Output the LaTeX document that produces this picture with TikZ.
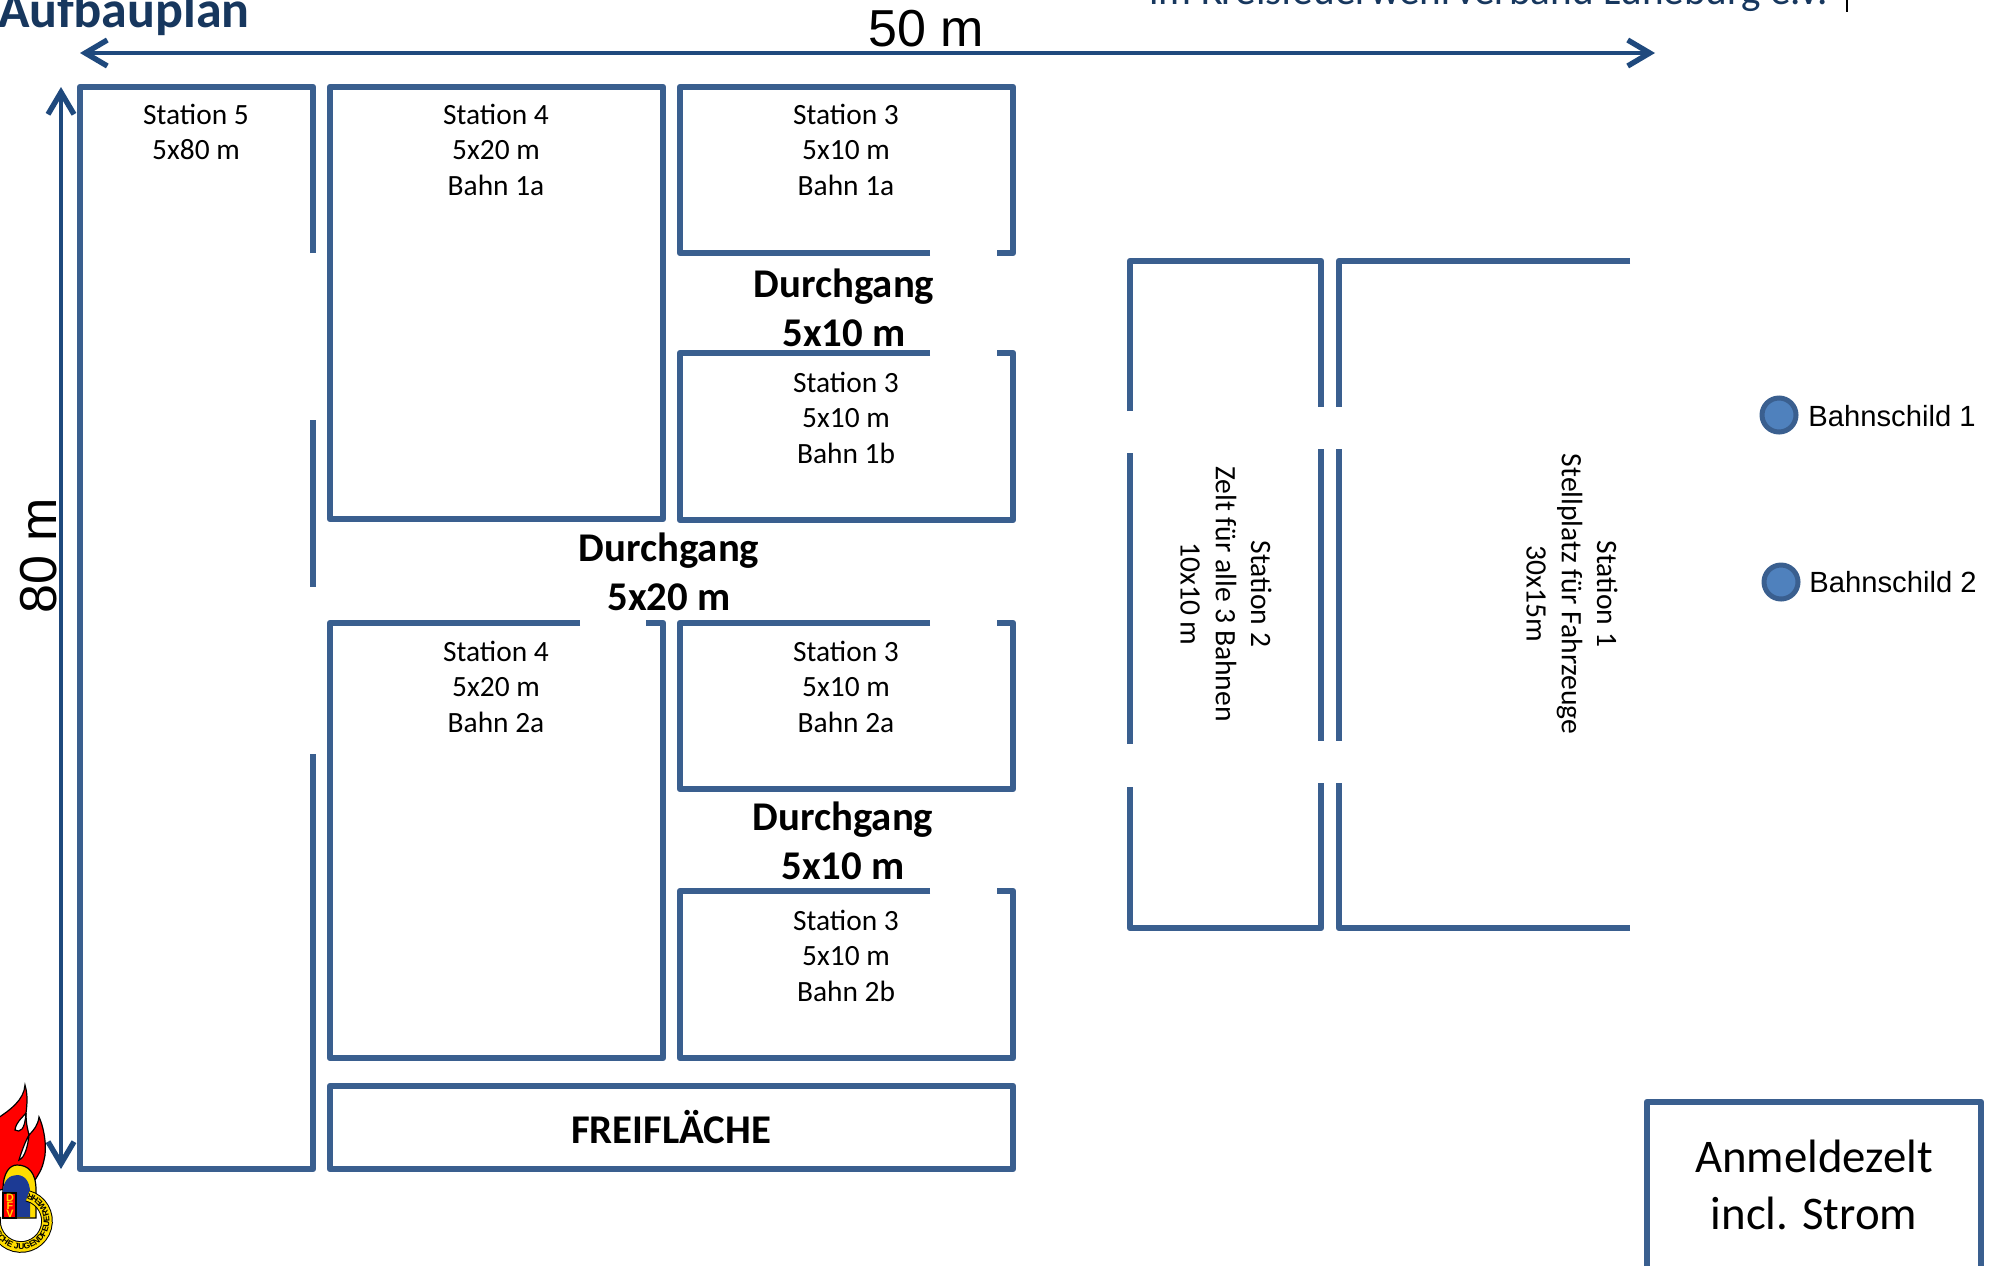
\documentclass[tikz,border=0pt]{standalone}
\usepackage{fontspec}
\setmainfont{Carlito}
\newfontfamily\arialfont{Liberation Sans}
\usetikzlibrary{arrows.meta,decorations.text}
\definecolor{wallblue}{HTML}{3A5F8F}
\definecolor{dimblue}{HTML}{1F497D}
\definecolor{titleblue}{HTML}{17375E}
\definecolor{pinfill}{HTML}{4F81BD}
\definecolor{badgeyellow}{HTML}{FFDD00}
\definecolor{badgeblue}{HTML}{1C3A94}
\begin{document}
\begin{tikzpicture}[
    x=0.5pt, y=-0.5pt,
    wall/.style={draw=wallblue, line width=3.2pt, line join=round},
    dim/.style={draw=dimblue, line width=2.4pt, {Straight Barb[length=11pt,width=13pt,line width=2.7pt]}-{Straight Barb[length=11pt,width=13pt,line width=2.7pt]}},
    pin/.style={circle, draw=wallblue, line width=2.5pt, fill=pinfill, minimum size=17pt, inner sep=0pt},
    every node/.style={inner sep=0pt, align=center},
    station/.style={font=\fontsize{14.7}{17.6}\selectfont, anchor=north},
    turned/.style={font=\fontsize{14.8}{17.6}\selectfont, rotate=-90},
    passage/.style={font=\fontsize{20.4}{24.8}\selectfont\bfseries},
    pinlabel/.style={font=\fontsize{14.6}{17}\selectfont\arialfont, anchor=west},
    measure/.style={font=\fontsize{26}{30}\selectfont\arialfont},
    emblem/.style={draw=black, line width=0.6pt}
]
\useasboundingbox (0,0) rectangle (1997,1265);

% station 5 with the two openings
\draw[wall] (313,253) -- (313,87) -- (80,87) -- (80,1169) -- (313,1169) -- (313,754);
\draw[wall] (313,420) -- (313,587);

% station 4
\draw[wall] (330,87) rectangle (663,519);
\draw[wall] (580,623) -- (330,623) -- (330,1058) -- (663,1058) -- (663,623) -- (646,623);

% station 3, upper
\draw[wall] (930,253) -- (680,253) -- (680,87) -- (1013,87) -- (1013,253) -- (997,253);
\draw[wall] (930,353) -- (680,353) -- (680,520) -- (1013,520) -- (1013,353) -- (997,353);

% station 3, lower
\draw[wall] (930,623) -- (680,623) -- (680,789) -- (1013,789) -- (1013,623) -- (997,623);
\draw[wall] (930,891) -- (680,891) -- (680,1058) -- (1013,1058) -- (1013,891) -- (997,891);

\draw[wall] (330,1086) rectangle (1013,1169);

% station 2
\draw[wall] (1130,411) -- (1130,261) -- (1321,261) -- (1321,407);
\draw[wall] (1130,453) -- (1130,744);
\draw[wall] (1321,449) -- (1321,741);
\draw[wall] (1130,787) -- (1130,928) -- (1321,928) -- (1321,783);

% station 1
\draw[wall] (1630,261) -- (1339,261) -- (1339,407);
\draw[wall] (1339,449) -- (1339,741);
\draw[wall] (1339,783) -- (1339,928) -- (1630,928);

\draw[wall] (1647,1300) -- (1647,1102) -- (1981,1102) -- (1981,1300);

% measures
\coordinate (widthA) at (80,53);
\coordinate (widthB) at (1655,53);
\coordinate (heightA) at (61,87);
\coordinate (heightB) at (61,1169);
\draw[dim] (widthA) -- (widthB);
\draw[dim] (heightA) -- (heightB);
\node[measure] (widthLabel) at (926,29) {50 m};
\node[measure, rotate=90] (heightLabel) at (39,556) {80 m};

% header
\node[anchor=base west, text=titleblue, font=\fontsize{26}{30}\selectfont\bfseries] (title) at (-2,27) {Aufbauplan};
\node[anchor=base west, text=titleblue, font=\fontsize{20.6}{24}\selectfont] (district) at (1149,4) {im Kreisfeuerwehrverband Lüneburg e.V.};
\coordinate (tickA) at (1847,0);
\coordinate (tickB) at (1847,12);
\draw[black, line width=0.6pt] (tickA) -- (tickB);

% labels
\node[station] (st5) at (196,104) {Station 5\\5x80 m};
\node[station] (st4a) at (496,104) {Station 4\\5x20 m\\Bahn 1a};
\node[station] (st3a) at (846,104) {Station 3\\5x10 m\\Bahn 1a};
\node[station] (st3b) at (846,372) {Station 3\\5x10 m\\Bahn 1b};
\node[station] (st4b) at (496,641) {Station 4\\5x20 m\\Bahn 2a};
\node[station] (st3c) at (846,641) {Station 3\\5x10 m\\Bahn 2a};
\node[station] (st3d) at (846,910) {Station 3\\5x10 m\\Bahn 2b};
\node[passage] (gapA) at (844,308) {Durchgang\\5x10 m};
\node[passage] (gapB) at (669,572) {Durchgang\\5x20 m};
\node[passage] (gapC) at (843,841) {Durchgang\\5x10 m};
\node[passage] (free) at (671,1127) {FREIFLÄCHE};
\node[turned] (st2) at (1226,594) {Station 2\\Zelt für alle 3 Bahnen\\10x10 m};
\node[turned] (st1) at (1572,594) {Station 1\\Stellplatz für Fahrzeuge\\30x15m};
\node[font=\fontsize{23.4}{28.7}\selectfont] (tent) at (1814,1185) {Anmeldezelt\\incl. Strom};

% signs
\node[pin] (signA) at (1779,415) {};
\node[pin] (signB) at (1781,582) {};
\node[pinlabel] (signTextA) at (1808,416) {Bahnschild 1};
\node[pinlabel] (signTextB) at (1809,582) {Bahnschild 2};

% emblem
\draw[emblem, fill=red] (-2,1118) .. controls (10,1110) and (24,1100) .. (25,1085) .. controls (28,1095) and (27,1105) .. (26,1113) .. controls (26,1125) and (28,1130) .. (29,1135) .. controls (34,1130) and (38,1125) .. (39,1117) .. controls (45,1130) and (47,1150) .. (44,1160) .. controls (42,1170) and (38,1175) .. (35,1180) -- (0,1190) -- (-2,1190) -- cycle;
\draw[emblem, fill=white] (26,1113) .. controls (22,1118) and (16,1122) .. (15,1130) .. controls (20,1133) and (25,1130) .. (26,1113);
\draw[emblem, fill=white] (29,1135) .. controls (26,1140) and (22,1150) .. (19,1160) .. controls (25,1158) and (28,1145) .. (29,1135);
\draw[emblem, fill=badgeyellow] (3,1218) -- (3,1190) .. controls (3,1172) and (10,1165) .. (17,1165) .. controls (28,1165) and (36,1172) .. (36,1190) -- (36,1218) -- cycle;
\draw[fill=badgeblue, draw=none] (3,1217) -- (3,1192) .. controls (3,1180) and (10,1175) .. (17,1175) .. controls (25,1175) and (30,1182) .. (30,1192) -- (30,1217) -- cycle;
\draw[emblem, fill=red] (3,1193) rectangle (16,1218);
\node[text=badgeyellow, font=\fontsize{5.4}{3.9}\selectfont\bfseries\arialfont] (dfv) at (10,1206) {D\\F\\V};
\draw[black, line width=5.8pt] (21,1221) ++(-75:26) arc[start angle=-75, end angle=190, radius=26];
\draw[badgeyellow, line width=4.8pt] (21,1221) ++(-75:26) arc[start angle=-75, end angle=190, radius=26];
\path[postaction={decorate}, decoration={text along path, text align=right, text={|\fontsize{4.2}{5}\selectfont\bfseries\arialfont|DEUTSCHE JUGENDFEUERWEHR}}] (21,1221) ++(190:28.4) arc[start angle=190, end angle=-75, radius=28.4];
\end{tikzpicture}
\end{document}
